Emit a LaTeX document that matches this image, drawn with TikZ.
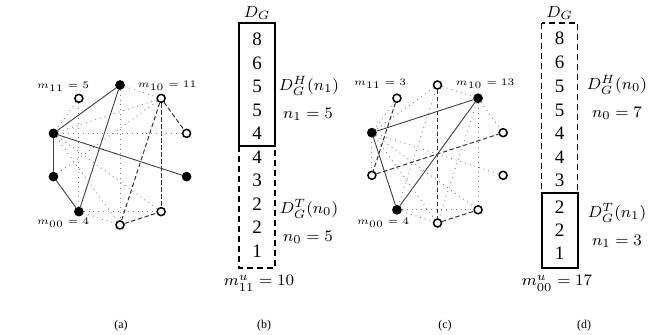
\documentclass[tikz,border=0pt]{standalone}
\usepackage{fontspec}
\setmainfont{Liberation Serif}
\usetikzlibrary{calc}

\tikzset{
  one/.style={circle,fill=black,draw=black,inner sep=0pt,minimum size=4.4pt},
  zero/.style={circle,fill=white,draw=black,line width=0.75pt,inner sep=0pt,minimum size=4pt},
  e11/.style={line width=0.45pt,black!75},
  e00/.style={line width=0.5pt,dash pattern=on 2.2pt off 1.3pt,black!80},
  e10/.style={line width=0.45pt,dotted,black!50},
  mlab/.style={font=\fontsize{5.5}{6}\selectfont,inner sep=0pt},
  cell/.style={font=\fontsize{9.5}{10}\selectfont,inner sep=0pt},
  side/.style={font=\fontsize{8}{9}\selectfont,inner sep=0pt},
  sub/.style={font=\fontsize{6}{7}\selectfont,inner sep=0pt},
}

\begin{document}
\begin{tikzpicture}[x=0.5pt,y=-0.5pt]
  \useasboundingbox (0,0) rectangle (662,335);
  % grafo (a)
  \foreach \k/\t in {0/one,1/zero,2/one,3/one,4/one,5/zero,6/zero,7/one,8/zero,9/zero}
    \node[\t] (a\k) at ($(120,155)+({-90-36*\k}:70)$) {};
  \foreach \u/\v in {2/0,2/3,3/4,0/4,2/7} \draw[e11] (a\u) -- (a\v);
  \foreach \u/\v in {9/8,9/6,9/5,5/6} \draw[e00] (a\u) -- (a\v);
  \foreach \u/\v in {0/9,0/5,1/2,1/4,2/9,2/8,2/5,2/6,3/9,4/6,4/5} \draw[e10] (a\u) -- (a\v);
  \node[mlab] (ma11) at (63,87) {$m_{11}=5$};
  \node[mlab] (ma10) at (167,86) {$m_{10}=11$};
  \node[mlab] (ma00) at (63,223) {$m_{00}=4$};

  % grafo (c)
  \foreach \k/\t in {0/zero,1/zero,2/one,3/zero,4/one,5/zero,6/zero,7/zero,8/zero,9/one}
    \node[\t] (c\k) at ($(437.5,154)+({-90-36*\k}:69)$) {};
  \foreach \u/\v in {2/9,2/4,4/9} \draw[e11] (c\u) -- (c\v);
  \foreach \u/\v in {1/3,0/5,3/8,5/6} \draw[e00] (c\u) -- (c\v);
  \foreach \u/\v in {1/2,0/2,0/9,0/4,9/8,9/6,9/5,2/3,2/7,2/6,2/5,4/6,4/5} \draw[e10] (c\u) -- (c\v);
  \node[mlab] (mc11) at (380,84) {$m_{11}=3$};
  \node[mlab] (mc10) at (485,84) {$m_{10}=13$};
  \node[mlab] (mc00) at (383,223) {$m_{00}=4$};

  % D_G (b)
  \draw[line width=0.9pt,dash pattern=on 3pt off 2pt] (239,146) rectangle (275,268);
  \draw[line width=1pt] (239,23) rectangle (275,146);
  \node[side] (dgb) at (257,13) {$D_G$};
  \foreach \d [count=\i from 0] in {8,6,5,5,4,4,3,2,2,1}
    \node[cell] (b\i) at (257,39.5+23.5*\i) {\d};
  \node[side] (hb) at (309,86) {$D_G^H(n_1)$};
  \node[side] (nb1) at (308,114) {$n_1=5$};
  \node[side] (tb) at (309,209) {$D_G^T(n_0)$};
  \node[side] (nb0) at (308,237) {$n_0=5$};
  \node[side] (mb) at (259,283) {$m_{11}^u=10$};

  % D_G (d)
  \draw[line width=0.9pt,dash pattern=on 3pt off 2pt] (541.5,23) rectangle (577.5,193.5);
  \draw[line width=1pt] (541.5,193.5) rectangle (577.5,268);
  \node[side] (dgd) at (559.5,13) {$D_G$};
  \foreach \d/\y [count=\i from 0] in {8/38.5,6/62,5/86.5,5/110,4/133.5,4/157,3/180.5,2/207,2/230,1/253}
    \node[cell] (d\i) at (559.5,\y) {\d};
  \node[side] (hd) at (617,85) {$D_G^H(n_0)$};
  \node[side] (nd0) at (617,113) {$n_0=7$};
  \node[side] (td) at (617,213) {$D_G^T(n_1)$};
  \node[side] (nd1) at (617,241) {$n_1=3$};
  \node[side] (md) at (557,283) {$m_{00}^u=17$};

  % subtitulos
  \foreach \l/\x in {a/121,b/264,c/445,d/584}
    \node[sub] (s\l) at (\x,326) {(\l)};
\end{tikzpicture}
\end{document}
